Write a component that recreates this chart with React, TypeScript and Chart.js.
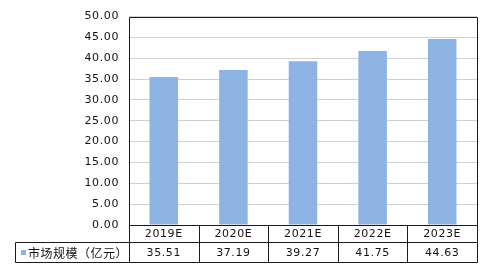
import React, { useEffect, useRef } from "react";
import { Chart, registerables } from "chart.js";

Chart.register(...registerables);

const categories = ["2019E", "2020E", "2021E", "2022E", "2023E"];
const seriesName = "市场规模（亿元）";
const values = [35.51, 37.19, 39.27, 41.75, 44.63];
const valueLabels = ["35.51", "37.19", "39.27", "41.75", "44.63"];

const BAR_COLOR = "#8DB3E2";
const LINE_COLOR = "#1a1a1a";
const FONT = "'DejaVu Sans', 'Noto Sans CJK SC', sans-serif";
const CJK_FONT = "'Noto Sans CJK SC', 'DejaVu Sans', sans-serif";

const spacingPlugin = {
  id: "spacing",
  beforeDraw(chart: any) {
    (chart.ctx as any).letterSpacing = "0.6px";
  },
};

const tablePlugin = {
  id: "dataTable",
  afterDraw(chart: any) {
    const ctx = chart.ctx;
    const area = chart.chartArea;
    const x = chart.scales.x;
    const left = area.left;
    const right = area.right;
    const top = area.top;
    const bottom = area.bottom;
    const row1 = bottom + 17;
    const row2 = row1 + 20;
    const legendLeft = 15;
    const n = categories.length;
    const step = (right - left) / n;

    ctx.save();
    ctx.strokeStyle = LINE_COLOR;
    ctx.lineWidth = 1;
    const line = (x1: number, y1: number, x2: number, y2: number) => {
      ctx.beginPath();
      ctx.moveTo(Math.round(x1) + 0.5, Math.round(y1) + 0.5);
      ctx.lineTo(Math.round(x2) + 0.5, Math.round(y2) + 0.5);
      ctx.stroke();
    };
    // plot frame
    line(left, top, right, top);
    line(right, top, right, row2);
    line(left, top, left, row2);
    line(left, bottom, right, bottom);
    // table rows
    line(legendLeft, row1, right, row1);
    line(legendLeft, row2, right, row2);
    line(legendLeft, row1, legendLeft, row2);
    for (let i = 1; i < n; i++) {
      const xi = left + step * i;
      line(xi, bottom, xi, row2);
    }

    ctx.fillStyle = "#111";
    ctx.font = "11px " + FONT;
    (ctx as any).letterSpacing = "0.6px";
    ctx.textAlign = "center";
    ctx.textBaseline = "middle";
    categories.forEach((c, i) => {
      const cx = x.getPixelForValue(i);
      ctx.fillText(c, cx, (bottom + row1) / 2 + 1);
      ctx.fillText(valueLabels[i], cx, (row1 + row2) / 2 + 1);
    });

    // legend key
    ctx.fillStyle = BAR_COLOR;
    ctx.fillRect(21, Math.round((row1 + row2) / 2) - 2, 5, 5);
    ctx.fillStyle = "#111";
    ctx.textAlign = "left";
    (ctx as any).letterSpacing = "0.5px";
    ctx.font = "12px " + CJK_FONT;
    ctx.fillText(seriesName, 28, (row1 + row2) / 2 + 1);
    ctx.restore();
  },
};

export default function App() {
  const ref = useRef<HTMLCanvasElement | null>(null);
  useEffect(() => {
    document.body.style.margin = "0";
    const canvas = ref.current!;
    const chart = new Chart(canvas, {
      type: "bar",
      data: {
        labels: categories,
        datasets: [
          {
            label: seriesName,
            data: values,
            backgroundColor: BAR_COLOR,
            borderWidth: 0,
            categoryPercentage: 1,
            barPercentage: 0.41,
          },
        ],
      },
      options: {
        animation: false,
        responsive: false,
        maintainAspectRatio: false,
        layout: { padding: { top: 14, right: 10, bottom: 46, left: 0 } },
        plugins: { legend: { display: false }, tooltip: { enabled: false } },
        scales: {
          x: { display: false },
          y: {
            min: 0,
            max: 50,
            ticks: {
              stepSize: 5,
              color: "#111",
              font: { family: FONT, size: 11 },
              padding: 10,
              callback: (v: any) => Number(v).toFixed(2),
            },
            grid: { color: "#D0D0D0", drawTicks: false },
            border: { display: false },
            afterFit: (s: any) => {
              s.width = 129;
            },
          },
        },
      },
      plugins: [spacingPlugin, tablePlugin],
    });
    return () => chart.destroy();
  }, []);
  return (
    <div style={{ width: 487, height: 271, position: "relative" }}>
      <canvas ref={ref} width={487} height={271} style={{ display: "block" }} />
    </div>
  );
}
